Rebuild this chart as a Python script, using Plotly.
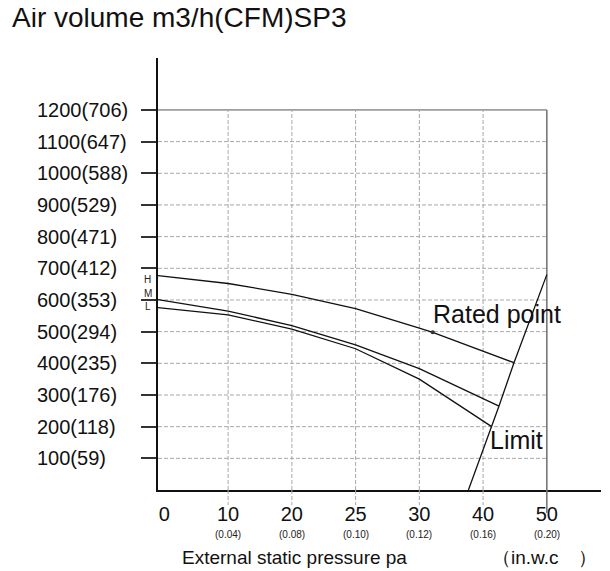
import plotly.graph_objects as go

# ---- data ----
x_tick_pos = [0, 1, 2, 3, 4, 5, 6]
x_tick_labels = ["0", "10", "20", "25", "30", "40", "50"]
x_sub_labels = ["", "(0.04)", "(0.08)", "(0.10)", "(0.12)", "(0.16)", "(0.20)"]

y_tick_vals = [100, 200, 300, 400, 500, 600, 700, 800, 900, 1000, 1100, 1200]
y_tick_labels = ["100(59)", "200(118)", "300(176)", "400(235)", "500(294)", "600(353)",
                 "700(412)", "800(471)", "900(529)", "1000(588)", "1100(647)", "1200(706)"]

h_x = [-0.1, 1, 2, 3, 4, 4.21, 5.485]
h_y = [677, 652, 618, 573, 511, 498, 402]
m_x = [-0.1, 1, 2, 3, 4, 5, 5.25]
m_y = [601, 565, 519, 458, 383, 288, 265]
l_x = [-0.1, 1, 2, 3, 4, 5, 5.135]
l_y = [576, 553, 508, 446, 350, 217, 200]
limit_x = [4.77, 5.135, 5.25, 5.485, 6.0]
limit_y = [0, 200, 265, 402, 680]
rated_x = [4.21]
rated_y = [498]

speed_labels = ["H", "M", "L"]
speed_label_y = [665, 621, 579]

FONT = "Liberation Sans, Arial, sans-serif"
X_RANGE = [-0.1, 6.85]
Y_RANGE = [0, 1364]

fig = go.Figure()
line_style = dict(color="#111111", width=1.3)
for xs, ys, nm in [(h_x, h_y, "H"), (m_x, m_y, "M"), (l_x, l_y, "L"), (limit_x, limit_y, "Limit")]:
    fig.add_trace(go.Scatter(x=xs, y=ys, mode="lines", line=line_style, name=nm,
                             hoverinfo="skip", showlegend=False))
fig.add_trace(go.Scatter(x=rated_x, y=rated_y, mode="markers",
                         marker=dict(size=4, color="#333333"), showlegend=False))

shapes = []
grid_col = "#a8a8a8"
x_max = x_tick_pos[-1]
for v in y_tick_vals[:-1]:
    shapes.append(dict(type="line", xref="x", yref="y", x0=X_RANGE[0], x1=x_max, y0=v, y1=v,
                       line=dict(color=grid_col, width=1, dash="4px,2px"), layer="below"))
shapes.append(dict(type="line", xref="x", yref="y", x0=X_RANGE[0], x1=x_max,
                   y0=y_tick_vals[-1], y1=y_tick_vals[-1],
                   line=dict(color="#555555", width=1), layer="below"))
for p in x_tick_pos[1:-1]:
    shapes.append(dict(type="line", xref="x", yref="y", x0=p, x1=p, y0=0, y1=y_tick_vals[-1],
                       line=dict(color=grid_col, width=1, dash="4px,2px"), layer="below"))
    shapes.append(dict(type="line", xref="x", yref="paper", x0=p, x1=p, y0=0, y1=-0.035,
                       line=dict(color=grid_col, width=1, dash="4px,2px")))
shapes.append(dict(type="line", xref="x", yref="y", x0=x_max, x1=x_max, y0=0, y1=y_tick_vals[-1],
                   line=dict(color="#777777", width=1.6), layer="below"))
shapes.append(dict(type="line", xref="x", yref="paper", x0=x_max, x1=x_max, y0=0, y1=-0.053,
                   line=dict(color="#777777", width=1.6)))

ann = []
for v, t in zip(y_tick_vals, y_tick_labels):
    ann.append(dict(xref="paper", yref="y", x=-0.2777, y=v, text=t, showarrow=False,
                    xanchor="left", yanchor="middle", font=dict(size=20, family=FONT, color="#111")))
for p, t in zip(x_tick_pos, x_sub_labels):
    if t:
        ann.append(dict(xref="x", yref="paper", x=p, y=-0.1019, text=t, showarrow=False,
                        xanchor="center", yanchor="middle", font=dict(size=10, family=FONT, color="#222")))
for t, v in zip(speed_labels, speed_label_y):
    ann.append(dict(xref="paper", yref="y", x=-0.0237, y=v, text=t, showarrow=False,
                    xanchor="center", yanchor="middle", font=dict(size=10, family=FONT, color="#222")))
ann.append(dict(xref="paper", yref="paper", x=-0.334, y=1.0926, text="Air volume m3/h(CFM)SP3",
                showarrow=False, xanchor="left", yanchor="middle",
                font=dict(size=28, family=FONT, color="#111")))
ann.append(dict(xref="x", yref="y", x=4.19, y=556, text="Rated point", showarrow=False,
                xanchor="left", yanchor="middle", font=dict(size=25, family=FONT, color="#111")))
ann.append(dict(xref="x", yref="y", x=5.08, y=158, text="Limit", showarrow=False,
                xanchor="left", yanchor="middle", font=dict(size=25, family=FONT, color="#111")))
ann.append(dict(xref="paper", yref="paper", x=0.0497, y=-0.157, text="External static pressure pa",
                showarrow=False, xanchor="left", yanchor="middle",
                font=dict(size=19, family=FONT, color="#111")))
ann.append(dict(xref="paper", yref="paper", x=0.749, y=-0.157, text="（in.w.c　）",
                showarrow=False, xanchor="left", yanchor="middle",
                font=dict(size=19, family=FONT, color="#111")))

fig.update_layout(
    width=602, height=563,
    margin=dict(l=150, r=9, t=50, b=81),
    paper_bgcolor="white", plot_bgcolor="white",
    showlegend=False,
    shapes=shapes, annotations=ann,
    xaxis=dict(range=X_RANGE, tickvals=x_tick_pos, ticktext=x_tick_labels,
               showgrid=False, zeroline=False, showline=True, linecolor="#111", linewidth=1.5,
               ticks="outside", ticklen=5, tickcolor="rgba(0,0,0,0)",
               tickfont=dict(size=20, family=FONT, color="#111")),
    yaxis=dict(range=Y_RANGE, tickvals=y_tick_vals, showticklabels=False,
               showgrid=False, zeroline=False, showline=True, linecolor="#111", linewidth=1.5,
               ticks="outside", ticklen=15, tickwidth=2, tickcolor="#333"),
)

fig.write_html("out.html")
